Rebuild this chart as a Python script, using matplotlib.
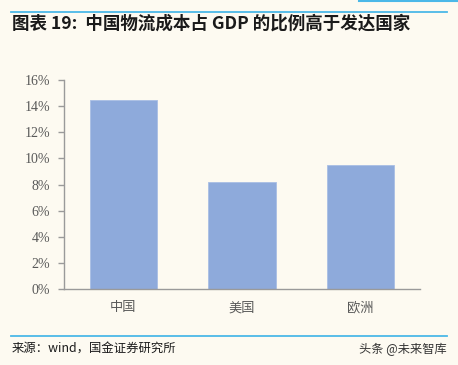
import matplotlib.pyplot as plt
from matplotlib.lines import Line2D
from matplotlib.ticker import PercentFormatter

plt.rcParams['font.family'] = ['Noto Sans CJK SC', 'DejaVu Sans']

# data
categories = ['中国', '美国', '欧洲']
logistics_cost_pct = [14.5, 8.2, 9.5]
yticks = [0, 2, 4, 6, 8, 10, 12, 14, 16]

BG = '#FDFAF1'
BAR = '#8EAADB'
LINE = '#4BB8E8'
GREY = '#595959'

fig = plt.figure(figsize=(4.58, 3.65), dpi=100, facecolor=BG)
ax = fig.add_axes([64 / 458, 76 / 365, 356 / 458, 209 / 365])
ax.set_facecolor(BG)

ax.bar(range(len(categories)), logistics_cost_pct, width=0.565, color=BAR,
       edgecolor='#A9BEE4', linewidth=0.6, zorder=2)

ax.set_xlim(-0.5, len(categories) - 0.5)
ax.set_ylim(0, 16)
ax.set_yticks(yticks)
ax.yaxis.set_major_formatter(PercentFormatter(decimals=0))
ax.set_xticks(range(len(categories)))
ax.set_xticklabels(categories, fontsize=9.5, color=GREY)
for lab in ax.get_yticklabels():
    lab.set_family(['Liberation Serif', 'DejaVu Serif'])
    lab.set_fontsize(10)
    lab.set_color(GREY)

for s in ['top', 'right']:
    ax.spines[s].set_visible(False)
for s in ['left', 'bottom']:
    ax.spines[s].set_color('#9A9A9A')
    ax.spines[s].set_linewidth(1.0)
ax.tick_params(axis='y', direction='out', length=4, width=1, color='#9A9A9A', pad=6)
ax.tick_params(axis='x', length=0, pad=9)

# header / footer rules
fig.add_artist(Line2D([11 / 458, 447 / 458], [1 - 12 / 365] * 2, color=LINE, lw=1.3))
fig.add_artist(Line2D([359 / 458, 1.0], [1 - 1 / 365] * 2, color=LINE, lw=1.5))
fig.add_artist(Line2D([11 / 458, 447 / 458], [1 - 336 / 365] * 2, color=LINE, lw=1.3))

fig.text(12 / 458, 1 - 23.5 / 365, '图表 19:  中国物流成本占 GDP 的比例高于发达国家',
         fontsize=12.6, fontweight='bold', color='#1A1A1A', va='center', ha='left')
fig.text(12 / 458, 1 - 349 / 365, '来源：wind，国金证券研究所',
         fontsize=8.9, color='#1A1A1A', va='center', ha='left')
fig.text(447 / 458, 1 - 349 / 365, '头条 @未来智库',
         fontsize=8.8, color='#333333', va='center', ha='right')

fig.savefig('out.png', dpi=100, facecolor=BG)
